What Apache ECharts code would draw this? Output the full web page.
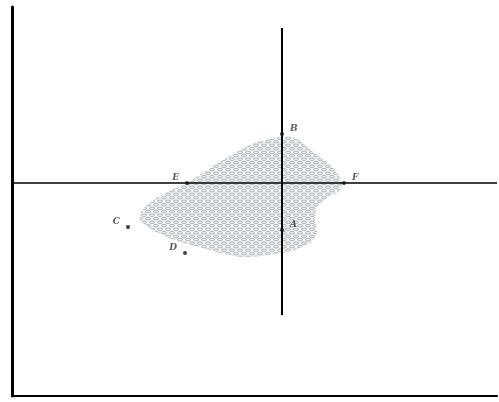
<!DOCTYPE html>
<html lang="en">
<head>
  <meta charset="UTF-8">
  <title>region</title>
  <script src="https://cdn.jsdelivr.net/npm/echarts@6/dist/echarts.min.js"></script>
  <style>
    html, body { margin: 0; padding: 0; background: #fff; }
  </style>
</head>
<body>
  <div id="main" style="width: 499px;height:402px"></div>
  <script>
    // outline of the shaded region (x, y)
    var blobX = [-2.5, 1.0, 3.1, 5.1, 6.0, 5.8, 4.5, 3.5, 3.3, 3.5, 2.8, 0.5, -3.9, -7.2, -11.5, -14.2, -13.7, -11.5, -9.5, -7.2, -4.2];
    var blobY = [4.1, 4.6, 3.1, 1.5, 0.1, -0.7, -1.5, -2.4, -3.7, -5.0, -6.0, -6.9, -7.4, -6.7, -5.4, -3.7, -2.4, -0.9, 0, 1.5, 3.3];
    // labelled points
    var pointNames = ['B', 'E', 'F', 'C', 'D', 'A'];
    var pointX = [0, -9.5, 6.2, -15.4, -9.7, 0];
    var pointY = [4.9, 0, 0, -4.4, -7.0, -4.7];
    var labelSide = ['right', 'left', 'right', 'left', 'left', 'right'];
    // the two crossing lines
    var hLineX = [-27, 21.5];
    var vLineY = [15.5, -13.2];

    // dotted fill like the scan
    var pat = document.createElement('canvas');
    pat.width = 8;
    pat.height = 7;
    var ctx = pat.getContext('2d');
    ctx.fillStyle = '#f4f6f7';
    ctx.fillRect(0, 0, 8, 7);
    ctx.strokeStyle = '#a3a9ae';
    ctx.lineWidth = 0.9;
    ctx.beginPath();
    ctx.ellipse(4, 1.75, 2.6, 1.2, 0, 0, Math.PI * 2);
    ctx.stroke();
    ctx.beginPath();
    ctx.ellipse(0, 5.25, 2.6, 1.2, 0, 0, Math.PI * 2);
    ctx.stroke();
    ctx.beginPath();
    ctx.ellipse(8, 5.25, 2.6, 1.2, 0, 0, Math.PI * 2);
    ctx.stroke();

    var myChart = echarts.init(document.getElementById('main'));
    var option = {
      animation: false,
      grid: { left: 12, right: 2, top: 7, bottom: 6 },
      xAxis: {
        type: 'value', min: -27, max: 21.5,
        axisLine: { show: true, onZero: false, lineStyle: { color: '#000', width: 2 } },
        axisTick: { show: false }, axisLabel: { show: false }, splitLine: { show: false }
      },
      yAxis: {
        type: 'value', min: -21.3, max: 17.6,
        axisLine: { show: true, onZero: false, lineStyle: { color: '#000', width: 3 } },
        axisTick: { show: false }, axisLabel: { show: false }, splitLine: { show: false }
      },
      series: [
        {
          type: 'custom',
          data: blobX.map(function (x, i) { return [x, blobY[i]]; }),
          renderItem: function (params, api) {
            if (params.dataIndex !== 0) return;
            var pts = blobX.map(function (x, i) { return api.coord([x, blobY[i]]); });
            return {
              type: 'polygon',
              shape: { points: pts, smooth: 0.3 },
              style: { fill: { image: pat, repeat: 'repeat' }, stroke: null }
            };
          },
          z: 1
        },
        {
          type: 'line',
          data: hLineX.map(function (x) { return [x, 0]; }),
          symbol: 'none',
          lineStyle: { color: '#000', width: 1.5 },
          z: 3
        },
        {
          type: 'line',
          data: vLineY.map(function (y) { return [0, y]; }),
          symbol: 'none',
          lineStyle: { color: '#000', width: 2 },
          z: 3
        },
        {
          type: 'scatter',
          data: pointX.map(function (x, i) { return { value: [x, pointY[i]], name: pointNames[i], label: { position: labelSide[i] } }; }),
          symbolSize: 4,
          itemStyle: { color: '#111' },
          label: {
            show: true,
            formatter: '{b}',
            fontFamily: 'DejaVu Serif',
            fontStyle: 'italic',
            fontWeight: 'bold',
            fontSize: 9,
            color: '#333',
            distance: 6,
            offset: [0, -5]
          },
          z: 4
        }
      ]
    };
    myChart.setOption(option);
  </script>
</body>
</html>
